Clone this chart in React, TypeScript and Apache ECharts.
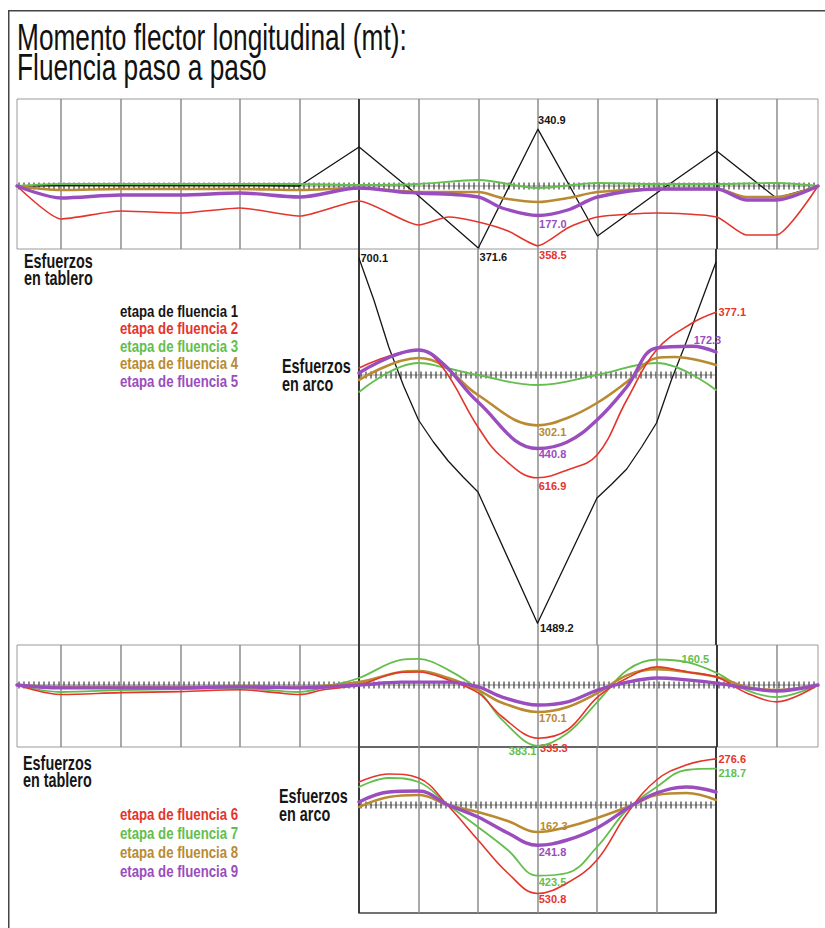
import React, { useEffect, useRef } from "react";
import * as echarts from "echarts";

// ---------- geometry of the bridge (in column modules) ----------
const COLUMNS = [0, 1, 2, 3, 4, 5, 6, 7, 8, 9, 10, 11, 12];
const SPRINGINGS = [5, 11];
const DECK_START = -0.74;
const DECK_END = 12.7;
const ARCH_START = 5;
const ARCH_END = 11;

// ---------- stage names ----------
const STAGES_A = ["etapa de fluencia 1", "etapa de fluencia 2", "etapa de fluencia 3", "etapa de fluencia 4", "etapa de fluencia 5"];
const STAGES_B = ["etapa de fluencia 6", "etapa de fluencia 7", "etapa de fluencia 8", "etapa de fluencia 9"];

// ---------- upper diagrams: stages 1-5 (moment, mt) ----------
const topDeck1 = [[-0.74, 0], [0, 3], [1, 3], [2, 3], [3, 3], [4, 0], [5, 234], [6, -60], [7, -371.6], [8, 340.9], [9, -300], [10, -40], [11, 210], [12, -72], [12.7, 0]];
const topDeck2 = [[-0.74, 0], [0, -198], [1, -150], [2, -162], [3, -132], [4, -180], [5, -90], [6, -234], [6.5, -186], [7, -216], [7.5, -270], [8, -358.5], [8.5, -252], [9, -186], [10, -162], [11, -186], [11.5, -294], [12, -294], [12.7, 0]];
const topDeck3 = [[-0.74, 0], [0, 12], [1, 12], [2, 12], [3, 12], [4, 12], [5, 6], [6, 12], [7, 36], [8, -12], [9, 18], [10, 12], [11, 12], [12, 18], [12.7, 0]];
const topDeck4 = [[-0.74, 0], [0, -24], [1, -18], [2, -18], [3, -18], [4, -24], [5, -12], [5.7, -30], [6, -36], [7, -36], [7.4, -72], [8, -96], [8.5, -72], [9, -36], [10, -18], [11, -18], [11.5, -66], [12, -66], [12.7, 0]];
const topDeck5 = [[-0.74, 0], [0, -72], [1, -54], [2, -54], [3, -42], [4, -66], [5, -12], [5.7, -36], [6, -42], [7, -66], [7.4, -132], [8, -177.0], [8.5, -144], [9, -66], [10, -18], [11, -18], [11.5, -84], [12, -84], [12.7, 0]];

const topArch1 = [[5, 700.1], [5.25, 450], [5.5, 168], [5.75, -66], [6, -270], [6.25, -402], [6.5, -516], [6.75, -612], [7, -702], [8, -1489.2], [9, -738], [9.25, -654], [9.5, -564], [9.75, -432], [10, -288], [10.25, -30], [10.5, 198], [10.75, 438], [11, 678]];
const topArch2 = [[5, 42], [6, 150], [6.4, 48], [7, -312], [7.4, -492], [8, -616.9], [8.5, -570], [9, -480], [9.5, -150], [10, 150], [10.6, 312], [11, 377.1]];
const topArch3 = [[5, -102], [6, 72], [6.4, 48], [7, 0], [8, -60], [9, 0], [10, 72], [11, -90]];
const topArch4 = [[5, -30], [6, 102], [6.4, 60], [7, -120], [8, -302.1], [8.5, -258], [9, -168], [9.5, -42], [10, 102], [10.3, 108], [11, 60]];
const topArch5 = [[5, 12], [6, 150], [6.4, 72], [7, -162], [8, -440.8], [8.5, -402], [9, -270], [9.5, -72], [10, 162], [10.6, 172.3], [11, 138]];

// ---------- lower diagrams: stages 6-9 ----------
const lowDeck6 = [[-0.74, 0], [0, -60], [1, -48], [2, -42], [3, -30], [3.6, -48], [4, -60], [4.4, -30], [5, 0], [5.7, 80], [6, 82], [6.5, 32], [7, -50], [7.4, -200], [8, -335.3], [8.5, -282], [9, -76], [9.5, 44], [10, 114], [10.5, 82], [11, 50], [11.5, -50], [12, -106], [12.7, 0]];
const lowDeck7 = [[-0.74, 0], [0, -44], [1, -32], [2, -26], [3, -20], [4, -44], [4.5, -6], [5, 44], [5.7, 158], [6, 164], [6.5, 94], [7, -32], [7.4, -220], [8, -383.1], [8.5, -302], [9, -106], [9.5, 94], [10, 160.5], [10.5, 144], [11, 76], [11.5, -32], [12, -76], [12.7, 0]];
const lowDeck8 = [[-0.74, 0], [0, -12], [1, -12], [2, -12], [3, -6], [4, -12], [5, 18], [5.7, 82], [6, 88], [6.5, 44], [7, -32], [7.4, -112], [8, -170.1], [8.5, -138], [9, -50], [9.5, 62], [10, 100], [10.5, 82], [11, 50], [11.5, -12], [12, -32], [12.7, 0]];
const lowDeck9 = [[-0.74, 0], [0, -18], [1, -18], [2, -18], [3, -12], [4, -18], [5, 0], [5.7, 18], [6, 18], [6.5, 18], [7, -12], [7.4, -76], [8, -126], [8.5, -106], [9, -32], [9.5, 18], [10, 44], [10.5, 32], [11, 12], [11.5, -18], [12, -38], [12.7, 0]];

const lowArch6 = [[5, 138], [5.5, 186], [6, 162], [6.5, -6], [7, -210], [7.5, -408], [8, -530.8], [8.5, -468], [9, -330], [9.5, -54], [10, 150], [10.5, 240], [11, 276.6]];
const lowArch7 = [[5, 108], [5.5, 162], [6, 138], [6.5, 0], [7, -132], [7.5, -270], [8, -423.5], [8.5, -408], [9, -252], [9.5, -30], [10, 108], [10.5, 210], [11, 218.7]];
const lowArch8 = [[5, -12], [5.5, 48], [6, 60], [6.5, 0], [7, -42], [7.5, -96], [8, -162.3], [8.5, -132], [9, -78], [9.6, 0], [10, 60], [10.5, 72], [11, 30]];
const lowArch9 = [[5, 18], [5.5, 78], [6, 84], [6.5, 0], [7, -72], [7.5, -168], [8, -241.8], [8.5, -210], [9, -138], [9.6, 0], [10, 72], [10.5, 108], [11, 78]];

// ---------- styling ----------
const FONT = '"Liberation Sans", Arial, sans-serif';
const C_BLACK = "#151515";
const C_RED = "#e4352c";
const C_GREEN = "#63be4d";
const C_ORANGE = "#b98a31";
const C_PURPLE = "#9a4dbe";
const STAGE_COLORS_A = [C_BLACK, C_RED, C_GREEN, C_ORANGE, C_PURPLE];
const STAGE_COLORS_B = [C_RED, C_GREEN, C_ORANGE, C_PURPLE];
const WIDTH = { black: 1.3, red: 1.6, green: 1.8, orange: 2.6, purple: 3.4 };

type Spec = { x: number; pos: string; d: number; off: [number, number] };

function curve(
  name: string,
  data: number[][],
  grid: number,
  color: string,
  width: number,
  smooth: number | boolean,
  z: number,
  labels: Spec[] = []
) {
  const s: any = {
    type: "line",
    name,
    xAxisIndex: grid,
    yAxisIndex: grid,
    data,
    showSymbol: false,
    symbol: "none",
    smooth,
    silent: true,
    z,
    lineStyle: { color, width, cap: "round", join: "round" },
    itemStyle: { color },
  };
  if (labels.length) {
    s.markPoint = {
      silent: true,
      animation: false,
      data: labels.map((l) => {
        const pt = data.find((p) => p[0] === l.x)!;
        const txt = Math.abs(pt[1]).toFixed(1);
        return {
          coord: [pt[0], pt[1]],
          value: txt,
          symbol: "circle",
          symbolSize: 1,
          itemStyle: { color: "rgba(0,0,0,0)" },
          label: {
            show: true,
            position: l.pos,
            distance: l.d,
            offset: l.off,
            formatter: txt,
            color,
            fontSize: 11,
            fontWeight: "bold",
            fontFamily: FONT,
          },
        };
      }),
    };
  }
  return s;
}

function hatch(grid: number, x0: number, x1: number) {
  return {
    type: "custom",
    xAxisIndex: grid,
    yAxisIndex: grid,
    silent: true,
    z: 2,
    data: [[x0, x1]],
    renderItem: (_p: any, api: any) => {
      const a = api.coord([api.value(0), 0]);
      const b = api.coord([api.value(1), 0]);
      const children: any[] = [
        { type: "line", shape: { x1: a[0], y1: a[1], x2: b[0], y2: b[1] }, style: { stroke: "#8a8a8a", lineWidth: 1 } },
      ];
      for (let px = a[0] + 2; px < b[0] - 1; px += 5) {
        children.push({
          type: "line",
          shape: { x1: px, y1: a[1] - 3.5, x2: px, y2: a[1] + 3.5 },
          style: { stroke: "#3c3c3c", lineWidth: 1.2 },
        });
      }
      return { type: "group", children };
    },
  };
}

function columnLines(grid: number, cols: number[]) {
  return {
    type: "line",
    xAxisIndex: grid,
    yAxisIndex: grid,
    data: [],
    silent: true,
    z: 1,
    markLine: {
      silent: true,
      animation: false,
      symbol: ["none", "none"],
      label: { show: false },
      data: cols.map((c) => ({
        xAxis: c,
        lineStyle: SPRINGINGS.includes(c)
          ? { color: "#3a3a3a", width: 2, type: "solid" }
          : { color: "#8c8c8c", width: 1.5, type: "solid" },
      })),
    },
  };
}

function txt(text: string, x: number, y: number, size: number, sx: number, color = "#161616", weight = "normal") {
  return {
    type: "text",
    x,
    y,
    scaleX: sx,
    silent: true,
    style: {
      text,
      fill: color,
      fontSize: size,
      fontWeight: weight,
      fontFamily: FONT,
      verticalAlign: "middle",
      textVerticalAlign: "middle",
      align: "left",
    },
  };
}

function buildOption() {
  const archCols = COLUMNS.filter((c) => c >= ARCH_START && c <= ARCH_END);
  const grids = [
    { left: 17, top: 99, width: 801, height: 150, show: true, borderColor: "#9a9a9a", borderWidth: 1, backgroundColor: "transparent" },
    { left: 359, top: 249, width: 357, height: 396, show: false },
    { left: 17, top: 645, width: 801, height: 102, show: true, borderColor: "#9a9a9a", borderWidth: 1, backgroundColor: "transparent" },
    { left: 359, top: 747, width: 357, height: 166, show: true, borderColor: "#444", borderWidth: 1.5, backgroundColor: "transparent" },
  ];
  const xr = [
    [DECK_START, DECK_END],
    [ARCH_START, ARCH_END],
    [DECK_START, DECK_END],
    [ARCH_START, ARCH_END],
  ];
  const yr = [
    [-378, 522],
    [-1620, 756],
    [-390.6, 252],
    [-648, 348],
  ];
  const xAxis = xr.map((r, i) => ({ type: "value", gridIndex: i, min: r[0], max: r[1], show: false }));
  const yAxis = yr.map((r, i) => ({ type: "value", gridIndex: i, min: r[0], max: r[1], show: false }));

  const series: any[] = [
    columnLines(0, [...COLUMNS]),
    columnLines(1, archCols),
    columnLines(2, [...COLUMNS]),
    columnLines(3, archCols),
    hatch(0, DECK_START, DECK_END),
    hatch(1, ARCH_START, ARCH_END),
    hatch(2, DECK_START, DECK_END),
    hatch(3, ARCH_START, ARCH_END),

    // upper deck
    curve(STAGES_A[0], topDeck1, 0, C_BLACK, WIDTH.black, false, 5, [
      { x: 8, pos: "top", d: 3, off: [14, 0] },
      { x: 7, pos: "bottom", d: 3, off: [15, 0] },
    ]),
    curve(STAGES_A[2], topDeck3, 0, C_GREEN, WIDTH.green, 0.3, 6),
    curve(STAGES_A[3], topDeck4, 0, C_ORANGE, WIDTH.orange, 0.3, 7),
    curve(STAGES_A[1], topDeck2, 0, C_RED, WIDTH.red, 0.2, 8, [{ x: 8, pos: "bottom", d: 3, off: [15, 0] }]),
    curve(STAGES_A[4], topDeck5, 0, C_PURPLE, WIDTH.purple, 0.3, 9, [{ x: 8, pos: "bottom", d: 2, off: [15, 0] }]),

    // upper arch
    curve(STAGES_A[0], topArch1, 1, C_BLACK, WIDTH.black, false, 5, [
      { x: 5, pos: "right", d: 1, off: [0, 0] },
      { x: 8, pos: "right", d: 2, off: [0, 5] },
    ]),
    curve(STAGES_A[2], topArch3, 1, C_GREEN, WIDTH.green, 0.4, 6),
    curve(STAGES_A[3], topArch4, 1, C_ORANGE, WIDTH.orange, 0.4, 7, [{ x: 8, pos: "bottom", d: 1, off: [15, 0] }]),
    curve(STAGES_A[1], topArch2, 1, C_RED, WIDTH.red, 0.4, 8, [
      { x: 8, pos: "bottom", d: 2, off: [15, 0] },
      { x: 11, pos: "right", d: 2, off: [0, 0] },
    ]),
    curve(STAGES_A[4], topArch5, 1, C_PURPLE, WIDTH.purple, 0.4, 9, [
      { x: 8, pos: "bottom", d: 0, off: [15, 0] },
      { x: 10.6, pos: "right", d: 1, off: [0, -6] },
    ]),

    // lower deck
    curve(STAGES_B[1], lowDeck7, 2, C_GREEN, WIDTH.green, 0.35, 6, [
      { x: 10, pos: "right", d: 24, off: [0, -1] },
      { x: 8, pos: "left", d: 1, off: [0, 5] },
    ]),
    curve(STAGES_B[2], lowDeck8, 2, C_ORANGE, WIDTH.orange, 0.35, 7, [{ x: 8, pos: "bottom", d: 0, off: [15, 0] }]),
    curve(STAGES_B[0], lowDeck6, 2, C_RED, WIDTH.red, 0.35, 8, [{ x: 8, pos: "bottom", d: 4, off: [16, 0] }]),
    curve(STAGES_B[3], lowDeck9, 2, C_PURPLE, WIDTH.purple, 0.35, 9),

    // lower arch
    curve(STAGES_B[1], lowArch7, 3, C_GREEN, WIDTH.green, 0.4, 6, [
      { x: 8, pos: "bottom", d: 0, off: [15, 0] },
      { x: 11, pos: "right", d: 2, off: [0, 4] },
    ]),
    curve(STAGES_B[2], lowArch8, 3, C_ORANGE, WIDTH.orange, 0.4, 7, [{ x: 8, pos: "right", d: 2, off: [0, -6] }]),
    curve(STAGES_B[0], lowArch6, 3, C_RED, WIDTH.red, 0.4, 8, [
      { x: 8, pos: "bottom", d: 0, off: [15, 0] },
      { x: 11, pos: "right", d: 2, off: [0, 0] },
    ]),
    curve(STAGES_B[3], lowArch9, 3, C_PURPLE, WIDTH.purple, 0.4, 9, [{ x: 8, pos: "bottom", d: 1, off: [15, 0] }]),
  ];

  const legendA = STAGES_A.map((s, i) => txt(s, 120, 311.5 + i * 17.5, 16, 0.825, STAGE_COLORS_A[i], "bold"));
  const legendB = STAGES_B.map((s, i) => txt(s, 120, 815 + i * 19, 16, 0.825, STAGE_COLORS_B[i], "bold"));

  const graphic: any[] = [
    { type: "line", silent: true, shape: { x1: 8.75, y1: 10, x2: 8.75, y2: 928 }, style: { stroke: "#444", lineWidth: 1.5 } },
    { type: "line", silent: true, shape: { x1: 8, y1: 10.75, x2: 825, y2: 10.75 }, style: { stroke: "#444", lineWidth: 1.5 } },
    txt("Momento flector longitudinal (mt):", 17, 37, 37, 0.71, "#111"),
    txt("Fluencia paso a paso", 17, 67, 37, 0.71, "#111"),
    txt("Esfuerzos", 24, 261, 20, 0.72, "#161616", "bold"),
    txt("en tablero", 24, 278, 20, 0.72, "#161616", "bold"),
    txt("Esfuerzos", 282, 366, 20, 0.72, "#161616", "bold"),
    txt("en arco", 282, 384, 20, 0.72, "#161616", "bold"),
    txt("Esfuerzos", 23, 763, 20, 0.72, "#161616", "bold"),
    txt("en tablero", 23, 780, 20, 0.72, "#161616", "bold"),
    txt("Esfuerzos", 279, 796, 20, 0.72, "#161616", "bold"),
    txt("en arco", 279, 814, 20, 0.72, "#161616", "bold"),
    ...legendA,
    ...legendB,
  ];

  return {
    animation: false,
    backgroundColor: "#ffffff",
    grid: grids,
    xAxis,
    yAxis,
    series,
    graphic,
  };
}

export default function App() {
  const ref = useRef<HTMLDivElement>(null);
  useEffect(() => {
    const chart = echarts.init(ref.current!, null, { renderer: "svg" });
    chart.setOption(buildOption() as any);
    return () => chart.dispose();
  }, []);
  return (
    <div
      ref={ref}
      style={{ position: "absolute", left: 0, top: 0, width: 825, height: 928, background: "#fff" }}
    />
  );
}
